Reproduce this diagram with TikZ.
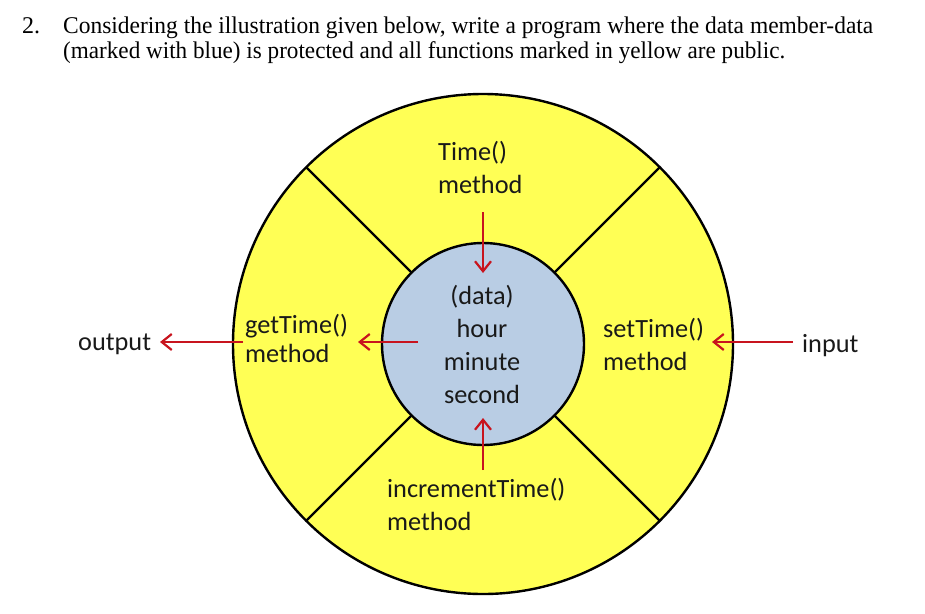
\documentclass[tikz,border=0pt]{standalone}
\usepackage{fontspec}
\usepackage{graphicx}
\setmainfont{Liberation Serif}
\newfontfamily\calib{Carlito}
\usetikzlibrary{arrows.meta}
\definecolor{yfill}{RGB}{255,255,85}
\definecolor{bfill}{RGB}{185,205,228}
\definecolor{arrred}{RGB}{200,20,30}
\definecolor{txt}{RGB}{25,25,25}
\begin{document}
\begin{tikzpicture}[x=1pt,y=-1pt,
  lbl/.style={font=\calib\fontsize{26.3}{33}\selectfont, text=txt, inner sep=0pt, align=left, anchor=base west},
  arr/.style={draw=arrred, line width=2.4pt, -{Straight Barb[length=10pt,width=16pt,line width=2.2pt]}},
  ring/.style={circle, draw=black, line width=2.4pt, inner sep=0pt, outer sep=0pt},
  divider/.style={draw=black, line width=2.2pt},
  ttl/.style={font=\fontsize{24}{25}\selectfont, text=black, inner sep=0pt, anchor=base west}]
\useasboundingbox (0,0) rectangle (925,613);
% title
\node[ttl] (num) at (22,33) {2.};
\node[ttl] (l1) at (63,33) {\resizebox{810pt}{\height}{Considering the illustration given below, write a program where the data member-data}};
\node[ttl] (l2) at (63,58) {\resizebox{722pt}{\height}{(marked with blue) is protected and all functions marked in yellow are public.}};
% rings
\node[ring, fill=yfill, minimum size=500pt] (outer) at (483,344) {};
\node[ring, fill=bfill, minimum size=202pt] (inner) at (483,344) {};
\foreach \a in {45,135,225,315}
  \draw[divider] (inner.\a) -- (outer.\a);
% labels (base = baseline of the last line)
\node[lbl] (time) at (438,193) {Time()\\method};
\node[lbl, align=center, anchor=base] (data) at (482,403) {(data)\\hour\\minute\\second};
\node[lbl, font=\calib\fontsize{26.3}{29}\selectfont] (get) at (245,362) {getTime()\\method};
\node[lbl] (set) at (603,370) {setTime()\\method};
\node[lbl] (inc) at (387,530) {incrementTime()\\method};
\node[lbl] (out) at (78,350) {output};
\node[lbl] (in) at (802,352) {input};
% arrow end points
\coordinate (ts) at (483,212); \coordinate (te) at (483,273);
\coordinate (is) at (483,470); \coordinate (ie) at (483,418);
\coordinate (gs) at (418,342); \coordinate (ge) at (358,342);
\coordinate (os) at (243,342); \coordinate (oe) at (160,342);
\coordinate (ss) at (793,342); \coordinate (se) at (712,342);
\draw[arr] (ts) -- (te);
\draw[arr] (is) -- (ie);
\draw[arr] (gs) -- (ge);
\draw[arr] (os) -- (oe);
\draw[arr] (ss) -- (se);
\end{tikzpicture}
\end{document}
